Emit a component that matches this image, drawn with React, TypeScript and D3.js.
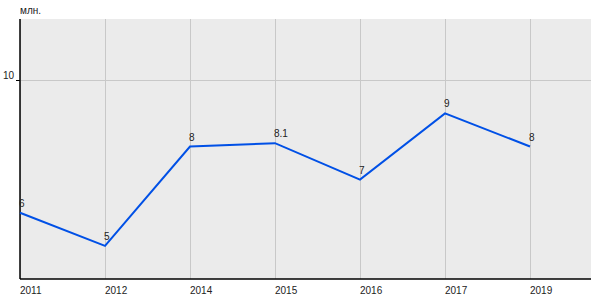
import React from "react";
import * as d3 from "d3";

const years = ["2011", "2012", "2014", "2015", "2016", "2017", "2019"];
const values = [6, 5, 8, 8.1, 7, 9, 8];
const valueLabels = ["6", "5", "8", "8.1", "7", "9", "8"];
const yTicks = [10];
const unitLabel = "млн.";

export default function App() {
  const width = 600;
  const height = 300;
  const left = 20;
  const right = 591;
  const top = 19;
  const bottom = 279;
  const step = 85;

  const x = d3.scalePoint<string>().domain(years).range([left, left + step * 6]);
  const y = d3.scaleLinear().domain([4, 11.85]).range([bottom, top]);

  const line = d3
    .line<number>()
    .x((_, i) => x(years[i]) as number)
    .y((d) => y(d));

  const font = "'Liberation Sans', Arial, sans-serif";

  return (
    <svg
      width={width}
      height={height}
      style={{ position: "absolute", left: 0, top: 0 }}
      fontFamily={font}
    >
      <rect x={left} y={top} width={right - left} height={bottom - top} fill="#ebebeb" />
      {years.map((yr) => (
        <line
          key={"gx" + yr}
          x1={x(yr)}
          x2={x(yr)}
          y1={top}
          y2={bottom}
          stroke="#c8c8c8"
          strokeWidth={1}
          shapeRendering="crispEdges"
        />
      ))}
      {yTicks.map((t) => (
        <g key={"gy" + t}>
          <line
            x1={left}
            x2={right}
            y1={y(t)}
            y2={y(t)}
            stroke="#c8c8c8"
            strokeWidth={1}
            shapeRendering="crispEdges"
          />
          <line
            x1={left - 4}
            x2={left}
            y1={y(t)}
            y2={y(t)}
            stroke="#000"
            strokeWidth={1}
            shapeRendering="crispEdges"
          />
          <text x={left - 6} y={y(t)} dy="-0.1em" textAnchor="end" fontSize={10} fill="#222">
            {t}
          </text>
        </g>
      ))}
      <line x1={left} x2={left} y1={top} y2={bottom} stroke="#000" strokeWidth={1.5} />
      <line x1={left} x2={right} y1={bottom} y2={bottom} stroke="#000" strokeWidth={1.5} />
      {years.map((yr) => (
        <text key={"xl" + yr} x={x(yr)} y={bottom + 15} fontSize={10} fill="#222">
          {yr}
        </text>
      ))}
      <text x={left} y={14} fontSize={10} fill="#222">
        {unitLabel}
      </text>
      <path d={line(values) || ""} fill="none" stroke="#0050e6" strokeWidth={2} />
      {values.map((v, i) => (
        <text
          key={"vl" + i}
          x={(x(years[i]) as number) - 1}
          y={y(v) - 6}
          fontSize={10}
          fill="#222"
        >
          {valueLabels[i]}
        </text>
      ))}
    </svg>
  );
}
